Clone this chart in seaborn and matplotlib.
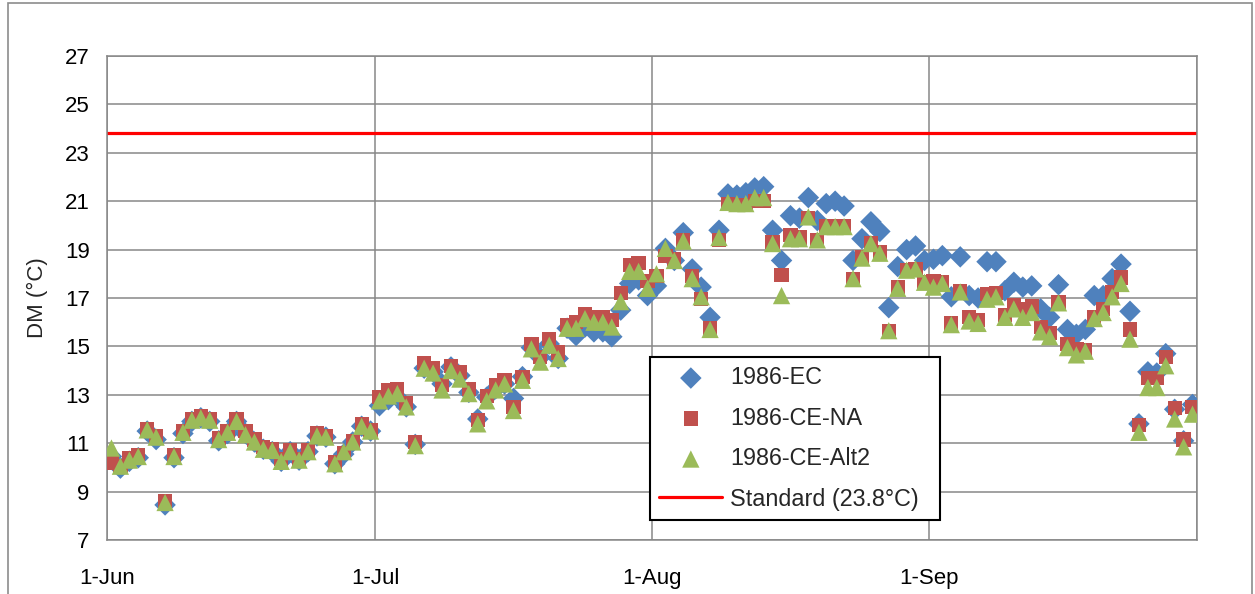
import matplotlib
matplotlib.use("Agg")
import matplotlib.pyplot as plt
from matplotlib.patches import Rectangle
import pandas as pd
import numpy as np
import seaborn as sns

# daily DM values (deg C), 1 Jun - 30 Sep 1986
ec_jun = [10.45, 9.97, 10.25, 10.4, 11.5, 11.15, 8.45, 10.4, 11.4, 11.9,
          12.05, 11.9, 11.1, 11.4, 11.9, 11.4, 11.05, 10.75, 10.65, 10.25,
          10.65, 10.3, 10.65, 11.3, 11.25, 10.15, 10.55, 11.05, 11.7, 11.5]
ec_jul = [12.55, 12.8, 12.9, 12.5, 10.95, 14.1, 13.95, 13.45, 14.15, 13.8,
          13.1, 12.0, 12.9, 13.25, 13.45, 12.85, 13.75, 14.95, 14.55, 15.1,
          14.5, 15.75, 15.45, 15.8, 15.6, 15.6, 15.4, 16.5, 17.6, 17.75,
          17.1]
ec_aug = [17.5, 19.05, 18.55, 19.7, 18.2, 17.45, 16.2, 19.8, 21.3, 21.25,
          21.35, 21.55, 21.6, 19.8, 18.55, 20.4, 20.3, 21.15, 20.2, 20.9,
          21.0, 20.8, 18.55, 19.45, 20.15, 19.75, 16.6, 18.3, 19.0, 19.15,
          18.55]
ec_sep = [18.6, 18.75, 17.05, 18.7, 17.1, 17.0, 18.5, 18.5, 17.3, 17.65,
          17.45, 17.5, 16.55, 16.2, 17.55, 15.7, 15.5, 15.7, 17.1, 17.1,
          17.8, 18.4, 16.45, 11.8, 13.95, 13.9, 14.7, 12.4, 11.1, 12.6]

na_jun = [10.2, 10.05, 10.4, 10.5, 11.6, 11.3, 8.6, 10.5, 11.5, 12.0,
          12.1, 12.0, 11.2, 11.5, 12.0, 11.5, 11.15, 10.85, 10.75, 10.35,
          10.7, 10.35, 10.7, 11.4, 11.3, 10.2, 10.6, 11.1, 11.8, 11.55]
na_jul = [12.9, 13.2, 13.25, 12.65, 11.05, 14.3, 14.1, 13.4, 14.2, 13.95,
          13.25, 11.95, 12.95, 13.4, 13.6, 12.5, 13.75, 15.1, 14.55, 15.3,
          14.75, 15.9, 16.0, 16.35, 16.2, 16.2, 16.1, 17.2, 18.35, 18.45,
          17.7]
na_aug = [17.9, 18.75, 18.6, 19.4, 17.9, 16.95, 15.75, 19.4, 20.9, 20.85,
          20.85, 21.0, 21.0, 19.3, 17.95, 19.6, 19.5, 20.3, 19.4, 19.95,
          19.95, 19.95, 17.8, 18.7, 19.25, 18.9, 15.65, 17.45, 18.15, 18.2,
          17.65]
na_sep = [17.7, 17.65, 15.95, 17.3, 16.2, 16.1, 17.15, 17.2, 16.3, 16.7,
          16.55, 16.65, 15.8, 15.55, 16.85, 15.1, 14.9, 14.85, 16.2, 16.55,
          17.25, 17.85, 15.7, 11.75, 13.7, 13.7, 14.55, 12.45, 11.15, 12.5]

alt_jun = [10.8, 10.05, 10.3, 10.45, 11.55, 11.25, 8.55, 10.45, 11.45, 11.95,
           12.05, 11.95, 11.15, 11.45, 11.9, 11.35, 11.05, 10.75, 10.7, 10.25,
           10.65, 10.3, 10.65, 11.3, 11.25, 10.15, 10.65, 11.05, 11.7, 11.5]
alt_jul = [12.75, 12.95, 13.05, 12.5, 10.9, 14.1, 13.9, 13.2, 14.0, 13.65,
           13.05, 11.8, 12.75, 13.2, 13.45, 12.35, 13.6, 14.9, 14.35, 15.05,
           14.5, 15.75, 15.75, 16.15, 16.0, 16.0, 15.8, 16.85, 18.1, 18.1,
           17.4]
alt_aug = [18.0, 19.05, 18.55, 19.35, 17.8, 17.05, 15.7, 19.5, 20.95, 20.9,
           20.9, 21.15, 21.15, 19.25, 17.1, 19.45, 19.45, 20.35, 19.4, 19.95,
           19.95, 19.95, 17.8, 18.65, 19.25, 18.85, 15.65, 17.4, 18.15, 18.2,
           17.65]
alt_sep = [17.45, 17.6, 15.9, 17.25, 16.05, 15.95, 16.95, 17.05, 16.2, 16.55,
           16.2, 16.4, 15.6, 15.4, 16.8, 14.95, 14.65, 14.8, 16.15, 16.4,
           17.05, 17.6, 15.3, 11.45, 13.3, 13.3, 14.2, 12.0, 10.85, 12.2]

standard = 23.8
series_names = ['1986-EC', '1986-CE-NA', '1986-CE-Alt2']
tick_dates = ['1986-06-01', '1986-07-01', '1986-08-01', '1986-09-01', '1986-10-01']
tick_labels = ['1-Jun', '1-Jul', '1-Aug', '1-Sep', '']

ec = ec_jun + ec_jul + ec_aug + ec_sep
na = na_jun + na_jul + na_aug + na_sep
alt = alt_jun + alt_jul + alt_aug + alt_sep

# points sit in the middle of each day, like the excel date axis
dates = pd.date_range('1986-06-01', periods=len(ec), freq='D') + pd.Timedelta(hours=12)
wide = pd.DataFrame({'Date': dates, series_names[0]: ec,
                     series_names[1]: na, series_names[2]: alt})
df = wide.melt(id_vars='Date', var_name='Series', value_name='DM')

sns.set_style("white")
plt.rcParams['font.family'] = ['Liberation Sans', 'DejaVu Sans']

colors = {'1986-EC': '#4F81BD', '1986-CE-NA': '#C0504D', '1986-CE-Alt2': '#9BBB59'}
markers = {'1986-EC': 'D', '1986-CE-NA': 's', '1986-CE-Alt2': '^'}
sizes = {'1986-EC': 120, '1986-CE-NA': 105, '1986-CE-Alt2': 155}
grid_col = '#878787'

fig = plt.figure(figsize=(12.55, 5.94), dpi=100)
ax = fig.add_axes([107 / 1255, 1 - 540 / 594, 1090 / 1255, 484 / 594])

for name in series_names:
    sns.scatterplot(data=df[df['Series'] == name], x='Date', y='DM',
                    color=colors[name], marker=markers[name], s=sizes[name],
                    edgecolor='none', linewidth=0, label=name, ax=ax, zorder=3)

ax.axhline(standard, color='#FF0000', lw=2.3, label='Standard (23.8°C)', zorder=2)

ax.set_ylim(7, 27)
ax.set_yticks(np.arange(7, 28, 2))
ax.set_xlim(pd.Timestamp('1986-06-01'), pd.Timestamp('1986-10-01'))
ax.set_xticks([pd.Timestamp(d) for d in tick_dates])
ax.set_xticklabels(tick_labels)

ax.grid(True, color=grid_col, lw=1.1)
ax.set_axisbelow(True)
for sp in ax.spines.values():
    sp.set_color(grid_col)
    sp.set_linewidth(1.1)
ax.tick_params(axis='both', direction='out', length=6.5, width=1.1,
               color=grid_col, labelsize=16, labelcolor='black')
ax.tick_params(axis='y', pad=6)
ax.tick_params(axis='x', pad=14)
ax.set_xlabel('')
ax.set_ylabel('DM (°C)', fontsize=16, labelpad=12)

leg = ax.legend(loc='lower left', mode='expand',
                bbox_to_anchor=(543 / 1090, 20 / 484, 290 / 1090, 163 / 484),
                borderaxespad=0, fontsize=16.8, frameon=True, fancybox=False,
                framealpha=1, handlelength=2.7, handletextpad=0.35,
                labelspacing=0.75, borderpad=0.4, scatterpoints=1)
leg.get_frame().set_edgecolor('black')
leg.get_frame().set_linewidth(1.5)

# outer chart frame
fig.patches.append(Rectangle((8 / 1255, -0.1), 1244 / 1255, 1.1 - 3 / 594,
                             transform=fig.transFigure, fill=False,
                             edgecolor='#8c8c8c', lw=1.2))

fig.savefig('out.png', dpi=100)
plt.close(fig)
